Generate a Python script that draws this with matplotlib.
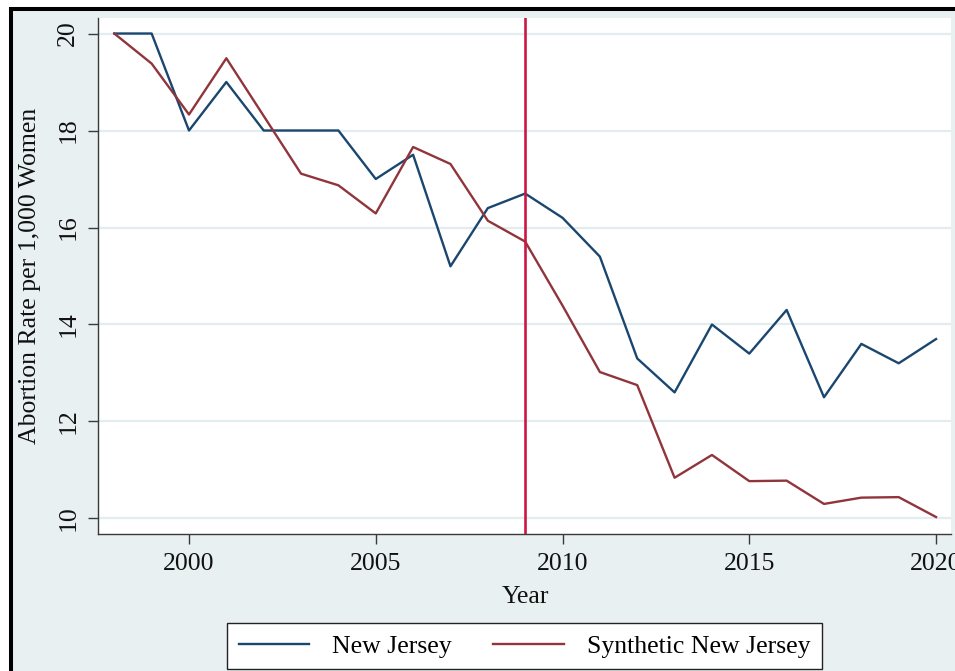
import matplotlib
matplotlib.use("Agg")
import matplotlib.pyplot as plt
from matplotlib.patches import Rectangle

# -----------------------------
# DATA
# -----------------------------
years = list(range(1998, 2021))
new_jersey = [20.0, 20.0, 18.0, 19.0, 18.0, 18.0, 18.0, 17.0, 17.5, 15.2, 16.4, 16.7,
              16.2, 15.4, 13.3, 12.6, 14.0, 13.4, 14.3, 12.5, 13.6, 13.2, 13.7]
synthetic_nj = [20.0, 19.38, 18.33, 19.49, 18.3, 17.11, 16.87, 16.29, 17.66, 17.31, 16.14, 15.71,
                14.39, 13.02, 12.75, 10.84, 11.31, 10.77, 10.78, 10.30, 10.43, 10.44, 10.03]
treatment_year = 2009
x_ticks = [2000, 2005, 2010, 2015, 2020]
y_ticks = [10, 12, 14, 16, 18, 20]

# -----------------------------
# STYLE
# -----------------------------
BG = "#E9F0F2"
GRID = "#E3ECEF"
NAVY = "#1A476F"
MAROON = "#90353B"
CRIMSON = "#CC1744"
AXIS = "#3a3a3a"
FONT = "Liberation Serif"
FS = 18.5

plt.rcParams["font.family"] = FONT

fig = plt.figure(figsize=(9.55, 6.71), dpi=100, facecolor="white")

# graph region with dark frame on top/left
fig.patches.append(Rectangle((11 / 955, -0.05), 1.2, (671 - 8.5) / 671 + 0.05,
                             transform=fig.transFigure, facecolor=BG,
                             edgecolor="black", linewidth=2.9, zorder=-10))

ax = fig.add_axes([98 / 955, (671 - 534) / 671, (951 - 98) / 955, (534 - 18) / 671])
ax.set_facecolor("white")

ax.plot(years, new_jersey, color=NAVY, lw=1.7, label="New Jersey", zorder=3)
ax.plot(years, synthetic_nj, color=MAROON, lw=1.7, label="Synthetic New Jersey", zorder=3)
ax.axvline(treatment_year, color=CRIMSON, lw=1.9, zorder=4)

ax.set_xlim(1997.564, 2020.40)
ax.set_ylim(9.68, 20.32)
ax.set_xticks(x_ticks)
ax.set_yticks(y_ticks)
ax.set_yticklabels([str(v) for v in y_ticks], rotation=90, va="center")

ax.yaxis.grid(True, color=GRID, lw=1.6)
ax.xaxis.grid(False)
ax.set_axisbelow(True)

for side in ["top", "right"]:
    ax.spines[side].set_visible(False)
for side in ["left", "bottom"]:
    ax.spines[side].set_color(AXIS)
    ax.spines[side].set_linewidth(1.0)

ax.tick_params(axis="both", direction="out", length=7.5, width=1.0, color=AXIS,
               labelsize=FS, labelcolor="#111111")
ax.tick_params(axis="x", pad=6)
ax.tick_params(axis="y", pad=6)

fig.text(30 / 955, 1 - 276 / 671, "Abortion Rate per 1,000 Women", rotation=90,
         ha="center", va="center", fontsize=FS, color="#111111")
fig.text(525 / 955, 1 - 597 / 671, "Year", ha="center", va="center",
         fontsize=FS, color="#111111")

leg = ax.legend(loc="upper center", bbox_to_anchor=(524.5 / 955, 1 - 623 / 671),
                bbox_transform=fig.transFigure, ncol=2, fontsize=FS, frameon=True,
                fancybox=False, edgecolor="#222222", facecolor="white", framealpha=1,
                handlelength=2.75, handletextpad=0.9, columnspacing=1.6, borderpad=0.45,
                borderaxespad=0)
leg.get_frame().set_linewidth(1.0)

fig.savefig("out.png", dpi=100, facecolor=fig.get_facecolor())
